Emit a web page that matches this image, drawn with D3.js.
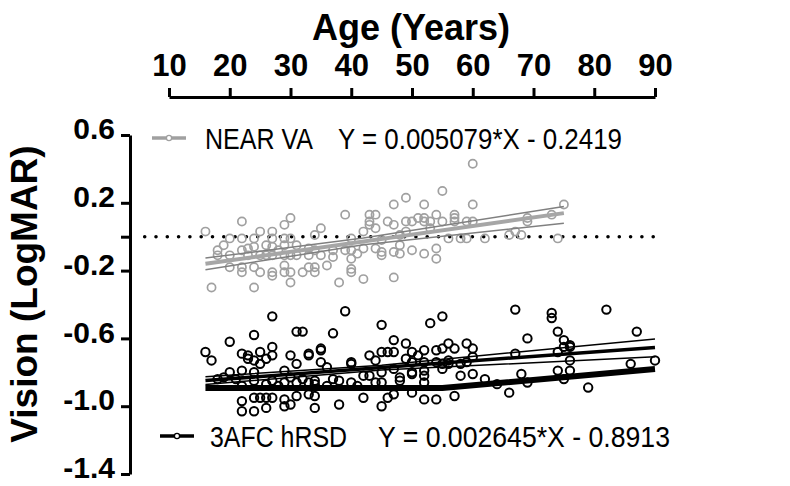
<!DOCTYPE html>
<html>
<head>
<meta charset="utf-8">
<script src="https://cdn.jsdelivr.net/npm/d3@7"></script>
<style>
  body { margin: 0; background: #fff; }
  text { font-family: "Liberation Sans", Arial, sans-serif; }
</style>
</head>
<body>
<div id="plotarea"></div>
<script>
// ages on the top axis, vision (LogMAR) on the left axis
var ageTicks = [10, 20, 30, 40, 50, 60, 70, 80, 90];
var visionTicks = [0.6, 0.2, 0, -0.2, -0.6, -1.0, -1.4];

// NEAR VA points [age, logMAR]
var nearVA = [[16,0.03],[17,-0.30],[18,-0.08],[18,-0.11],[19,-0.05],[20,-0.01],[20,-0.11],[20,-0.18],[22,0.09],[22,-0.01],[22,-0.08],[22,-0.18],[22,-0.21],[23,-0.07],[23,-0.11],[24,-0.01],[24,-0.06],[24,-0.18],[24,-0.30],[25,0.03],[25,-0.11],[25,-0.21],[26,-0.05],[26,-0.11],[27,0.03],[27,-0.01],[27,-0.06],[27,-0.11],[27,-0.21],[27,-0.23],[28,-0.08],[29,0.07],[29,-0.01],[29,-0.05],[29,-0.11],[29,-0.17],[29,-0.21],[30,0.11],[30,-0.01],[30,-0.11],[30,-0.21],[30,-0.27],[31,-0.05],[31,-0.11],[32,-0.21],[33,-0.07],[33,-0.11],[33,-0.18],[34,0.01],[34,-0.08],[34,-0.18],[34,-0.21],[35,0.05],[35,-0.11],[36,-0.17],[37,-0.08],[37,-0.12],[38,-0.27],[39,0.13],[39,-0.08],[40,-0.01],[40,-0.08],[40,-0.13],[40,-0.19],[40,-0.21],[41,-0.10],[42,0.03],[42,-0.07],[42,-0.25],[43,0.13],[43,0.09],[43,0.07],[44,0.13],[44,0.05],[44,-0.07],[45,-0.02],[45,-0.09],[45,-0.11],[46,0.09],[47,0.19],[47,0.07],[47,-0.09],[47,-0.24],[48,0.01],[48,-0.05],[48,-0.10],[49,0.23],[49,0.09],[49,0.03],[50,0.09],[50,-0.08],[51,0.11],[52,0.19],[52,0.11],[52,0.09],[52,-0.10],[53,0.09],[53,0.05],[54,0.13],[54,-0.07],[54,-0.13],[55,0.27],[55,0.09],[56,-0.01],[57,0.13],[57,0.11],[57,0.09],[58,-0.01],[59,0.09],[59,-0.01],[60,0.43],[60,0.19],[60,0.09],[62,-0.01],[66,0.01],[67,0.03],[68,0.01],[69,0.11],[69,0.09],[73,0.13],[74,-0.01],[75,0.19]];

// 3AFC hRSD points [age, logMAR]
var hrsd = [[27,-0.47],[39,-0.44],[20,-0.62],[24,-0.58],[31,-0.56],[32,-0.56],[37,-0.57],
  [16,-0.68],[17,-0.73],[22,-0.69],[23,-0.70],[23,-0.72],[24,-0.73],[25,-0.68],[25,-0.75],[26,-0.72],[27,-0.65],[27,-0.70],[30,-0.70],[31,-0.75],[33,-0.69],[33,-0.70],[35,-0.66],[35,-0.67],[35,-0.74],[36,-0.77],[40,-0.74],[40,-0.75],[43,-0.70],[44,-0.73],
  [20,-0.80],[22,-0.79],[24,-0.80],[24,-0.85],[29,-0.79],[27,-0.85],[29,-0.86],[31,-0.86],[33,-0.86],[34,-0.85],[34,-0.87],[38,-0.85],[40,-0.86],[42,-0.82],[43,-0.82],[44,-0.86],
  [18,-0.84],[19,-0.83],[21,-0.84],[22,-0.88],[26,-0.87],[28,-0.88],[30,-0.83],[32,-0.84],[36,-0.88],[37,-0.84],[41,-0.88],
  [22,-0.97],[22,-1.03],[24,-0.95],[24,-1.03],[25,-0.95],[26,-0.95],[26,-1.01],[27,-0.95],[29,-0.96],[29,-1.00],[30,-0.99],[31,-0.94],[33,-0.93],[34,-0.94],[34,-1.01],[38,-0.99],[42,-0.95],
  [45,-0.52],[45,-0.68],[46,-0.68],[47,-0.68],[47,-0.61],[49,-0.63],[50,-0.68],[52,-0.67],[54,-0.67],[55,-0.66],[56,-0.63],[59,-0.63],[53,-0.51],[55,-0.47],[67,-0.43],[73,-0.45],[73,-0.48],[74,-0.56],[69,-0.60],[75,-0.61],[76,-0.64],[76,-0.65],
  [57,-0.66],[60,-0.66],[51,-0.70],[49,-0.72],[50,-0.74],[52,-0.74],[54,-0.74],[55,-0.75],[56,-0.73],[56,-0.75],[58,-0.75],[59,-0.74],[60,-0.71],[67,-0.69],[74,-0.68],[76,-0.73],[75,-0.65],
  [47,-0.78],[48,-0.83],[48,-0.85],[50,-0.80],[50,-0.81],[52,-0.79],[52,-0.82],[52,-0.86],[55,-0.78],[58,-0.82],[60,-0.81],[62,-0.84],[64,-0.87],[68,-0.81],[69,-0.86],[74,-0.79],[76,-0.79],[75,-0.84],
  [45,-0.80],[45,-0.86],[46,-0.95],[47,-0.93],[45,-1.00],[50,-0.92],[52,-0.96],[54,-0.96],[57,-0.94],[66,-0.92],
  [82,-0.43],[87,-0.56],[86,-0.75],[90,-0.73],[79,-0.89]];

// fitted lines and their bands
var nearFit = [[16,-0.160],[75,0.139]];
var nearLow = [[16,-0.195],[42,-0.048],[75,0.080]];
var nearHigh = [[16,-0.126],[42,-0.008],[75,0.178]];
var hrsdFit = [[16,-0.849],[90,-0.653]];
var hrsdLow = [[16,-0.872],[45,-0.787],[90,-0.708]];
var hrsdHigh = [[16,-0.826],[45,-0.758],[90,-0.603]];
var hrsdFloor = [[16,-0.893],[55,-0.893],[90,-0.781]];
var zeroLine = [[6,0],[90,0]];

var width = 790, height = 486;

var svg = d3.select("#plotarea")
  .append("svg")
    .attr("width", width)
    .attr("height", height);

var x = d3.scaleLinear().domain([10, 90]).range([169, 655]);
var y = d3.scaleLinear().domain([-1.4, 0.6]).range([474, 135]);

// top axis
var xAxis = svg.append("g")
  .attr("transform", "translate(0,97)")
  .call(d3.axisTop(x).tickValues(ageTicks).tickSize(9).tickSizeOuter(0).tickPadding(12));
xAxis.select(".domain").attr("stroke-width", 3);
xAxis.selectAll(".tick line").attr("stroke-width", 3);
xAxis.selectAll(".tick text")
  .attr("font-size", 31).attr("font-weight", "bold")
  .style("font-family", "'Liberation Sans', Arial, sans-serif");

svg.append("text")
  .attr("x", 411).attr("y", 40)
  .attr("text-anchor", "middle")
  .attr("font-size", 36).attr("font-weight", "bold")
  .text("Age (Years)");

// left axis (plain hyphen for the minus sign, like the original)
var yAxis = svg.append("g")
  .attr("transform", "translate(130,0)")
  .call(d3.axisLeft(y).tickValues(visionTicks).tickSize(9).tickSizeOuter(0).tickPadding(6)
    .tickFormat(function(d) { return d === 0 ? "" : d.toFixed(1); }));
yAxis.select(".domain").attr("stroke-width", 3);
yAxis.selectAll(".tick line").attr("stroke-width", 3);
yAxis.selectAll(".tick text")
  .attr("font-size", 30).attr("font-weight", "bold")
  .attr("y", -6)
  .style("font-family", "'Liberation Sans', Arial, sans-serif");

svg.append("text")
  .attr("transform", "translate(37,294) rotate(-90)")
  .attr("text-anchor", "middle")
  .attr("font-size", 37).attr("font-weight", "bold")
  .text("Vision (LogMAR)");

var line = d3.line()
  .x(function(d) { return x(d[0]); })
  .y(function(d) { return y(d[1]); });

// dotted zero line
svg.append("path")
  .attr("d", line(zeroLine))
  .attr("fill", "none")
  .attr("stroke", "#000")
  .attr("stroke-width", 3.6)
  .attr("stroke-linecap", "round")
  .attr("stroke-dasharray", "0 11.3");

// scatter points
svg.append("g").selectAll("circle")
  .data(nearVA).enter().append("circle")
  .attr("cx", function(d) { return x(d[0]); })
  .attr("cy", function(d) { return y(d[1]); })
  .attr("r", 4.1)
  .attr("fill", "none")
  .attr("stroke", "#a0a0a0")
  .attr("stroke-width", 1.7);

svg.append("g").selectAll("circle")
  .data(hrsd).enter().append("circle")
  .attr("cx", function(d) { return x(d[0]); })
  .attr("cy", function(d) { return y(d[1]); })
  .attr("r", 4.2)
  .attr("fill", "none")
  .attr("stroke", "#000")
  .attr("stroke-width", 2);

// regression lines
function drawLine(data, color, w) {
  svg.append("path")
    .attr("d", line(data))
    .attr("fill", "none")
    .attr("stroke", color)
    .attr("stroke-width", w);
}
drawLine(nearLow, "#808080", 1.5);
drawLine(nearHigh, "#808080", 1.5);
drawLine(nearFit, "#a6a6a6", 4);
drawLine(hrsdLow, "#000", 1.5);
drawLine(hrsdHigh, "#000", 1.5);
drawLine(hrsdFit, "#000", 3.5);
drawLine(hrsdFloor, "#000", 6);

// legends
function legend(ly, x0, x1, cx, color, label, lx, eq, ex, lw, ew) {
  svg.append("line")
    .attr("x1", x0).attr("x2", x1).attr("y1", ly).attr("y2", ly)
    .attr("stroke", color).attr("stroke-width", 3.5);
  svg.append("circle")
    .attr("cx", cx).attr("cy", ly).attr("r", 2.6)
    .attr("fill", "#fff").attr("stroke", color).attr("stroke-width", 1.3);
  svg.append("text")
    .attr("x", lx).attr("y", ly + 11)
    .attr("font-size", 30)
    .attr("textLength", lw).attr("lengthAdjust", "spacingAndGlyphs")
    .text(label);
  svg.append("text")
    .attr("x", ex).attr("y", ly + 11)
    .attr("font-size", 30)
    .attr("textLength", ew).attr("lengthAdjust", "spacingAndGlyphs")
    .text(eq);
}
legend(138, 152, 186, 169, "#a0a0a0", "NEAR VA", 205, "Y = 0.005079*X - 0.2419", 338, 108, 284);
legend(436, 160, 194, 177, "#000", "3AFC hRSD", 210, "Y = 0.002645*X - 0.8913", 378, 137, 292);
</script>
</body>
</html>
